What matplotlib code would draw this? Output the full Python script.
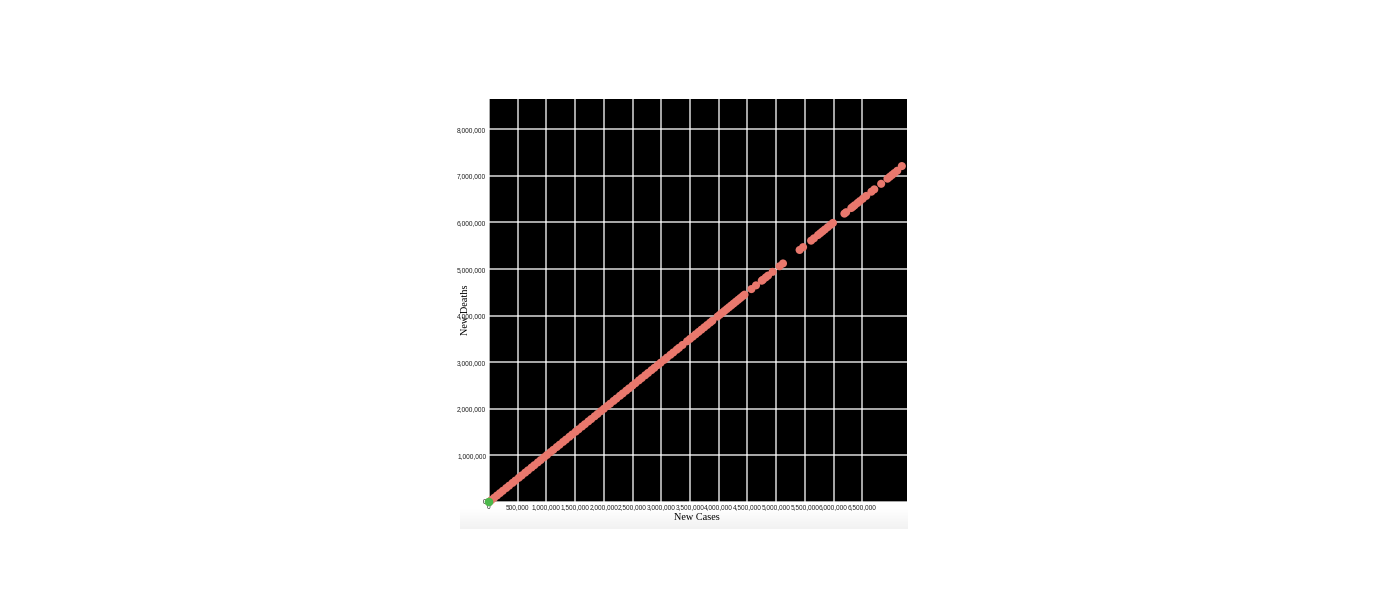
import matplotlib
matplotlib.use("Agg")
import matplotlib.pyplot as plt
import numpy as np

# values, in thousands
new_cases = [0, 40, 90, 140, 190, 240, 300, 350, 410, 460, 520, 570, 630, 680,
             740, 790, 850, 900, 960, 1010, 1070, 1120, 1180, 1230, 1290, 1340,
             1400, 1450, 1510, 1560, 1620, 1670, 1730, 1780, 1840, 1890, 1950,
             2000, 2060, 2110, 2170, 2220, 2280, 2330, 2390, 2440, 2500, 2550,
             2610, 2660, 2720, 2770, 2830, 2880, 2940, 2990, 3050, 3100, 3160,
             3210, 3270, 3310, 3370, 3450, 3500, 3550, 3600, 3650, 3700, 3750,
             3800, 3850, 3890, 3980, 4020, 4060, 4100, 4140, 4180, 4220, 4260,
             4300, 4340, 4380, 4420, 4450, 4570, 4650, 4750, 4770, 4820, 4860,
             4940, 5060, 5120, 5410, 5470, 5610, 5660, 5730, 5770, 5810, 5850,
             5900, 5950, 5990, 6190, 6220, 6310, 6340, 6370, 6420, 6460, 6510,
             6570, 6660, 6710, 6830, 6940, 6980, 7020, 7060, 7110, 7190]
new_deaths = [0, 40, 90, 140, 190, 240, 300, 350, 410, 460, 520, 570, 630, 680,
              740, 790, 850, 900, 960, 1010, 1070, 1120, 1180, 1230, 1290, 1340,
              1400, 1450, 1510, 1560, 1620, 1670, 1730, 1780, 1840, 1890, 1950,
              2000, 2060, 2110, 2170, 2220, 2280, 2330, 2390, 2440, 2500, 2550,
              2610, 2660, 2720, 2770, 2830, 2880, 2940, 2990, 3050, 3100, 3160,
              3210, 3270, 3310, 3370, 3450, 3500, 3550, 3600, 3650, 3700, 3750,
              3800, 3850, 3890, 3980, 4020, 4060, 4100, 4140, 4180, 4220, 4260,
              4300, 4340, 4380, 4420, 4450, 4570, 4650, 4750, 4770, 4820, 4860,
              4940, 5060, 5120, 5410, 5470, 5610, 5660, 5730, 5770, 5810, 5850,
              5900, 5950, 5990, 6190, 6220, 6310, 6340, 6370, 6420, 6460, 6510,
              6570, 6660, 6710, 6830, 6940, 6980, 7020, 7060, 7110, 7210]
origin_point = [0]

x_ticks = [0, 500000, 1000000, 1500000, 2000000, 2500000, 3000000, 3500000,
           4000000, 4500000, 5000000, 5500000, 6000000, 6500000]
y_ticks = [0, 1000000, 2000000, 3000000, 4000000, 5000000, 6000000, 7000000, 8000000]

fig = plt.figure(figsize=(13.75, 6.09), dpi=100)

# light grey gradient band under the x axis
band = fig.add_axes([460 / 1375, (609 - 529) / 609, 448 / 1375, 20 / 609])
grad = np.linspace(0, 1, 50).reshape(-1, 1)
band.imshow(grad, aspect="auto", cmap="Greys", vmin=0, vmax=9,
            extent=[0, 1, 0, 1])
band.axis("off")

ax = fig.add_axes([489 / 1375, 107 / 609, 418 / 1375, 403 / 609])
ax.set_facecolor("black")

ax.scatter(np.array(new_cases) * 1000, np.array(new_deaths) * 1000,
           s=34, color="#e9786d", edgecolors="none", zorder=3, clip_on=False)
ax.scatter(origin_point, origin_point, s=38, color="#4cb84c",
           edgecolors="none", zorder=4, clip_on=False)

ax.set_xlim(0, 7280000)
ax.set_ylim(0, 8650000)
ax.set_xticks(x_ticks)
ax.set_yticks(y_ticks)
ax.set_xticklabels([f"{v:,}" for v in x_ticks], fontsize=4.7, family="Liberation Sans")
ax.set_yticklabels([f"{v:,}" for v in y_ticks], fontsize=4.8, family="Liberation Sans")
ax.tick_params(length=0, colors="#222222")
ax.tick_params(axis="x", pad=1.2)
ax.tick_params(axis="y", pad=2)
ax.grid(True, color="white", linewidth=1.1, alpha=0.85)
ax.set_axisbelow(True)
for s in ax.spines.values():
    s.set_visible(False)

fig.text(697 / 1375, (609 - 517) / 609, "New Cases", ha="center", va="center",
         fontsize=7.4, family="Liberation Serif")
fig.text(466 / 1375, (609 - 310) / 609, "New Deaths", ha="center", va="center",
         rotation=90, fontsize=7.4, family="Liberation Serif")

fig.savefig("out.png", dpi=100, facecolor="white")
